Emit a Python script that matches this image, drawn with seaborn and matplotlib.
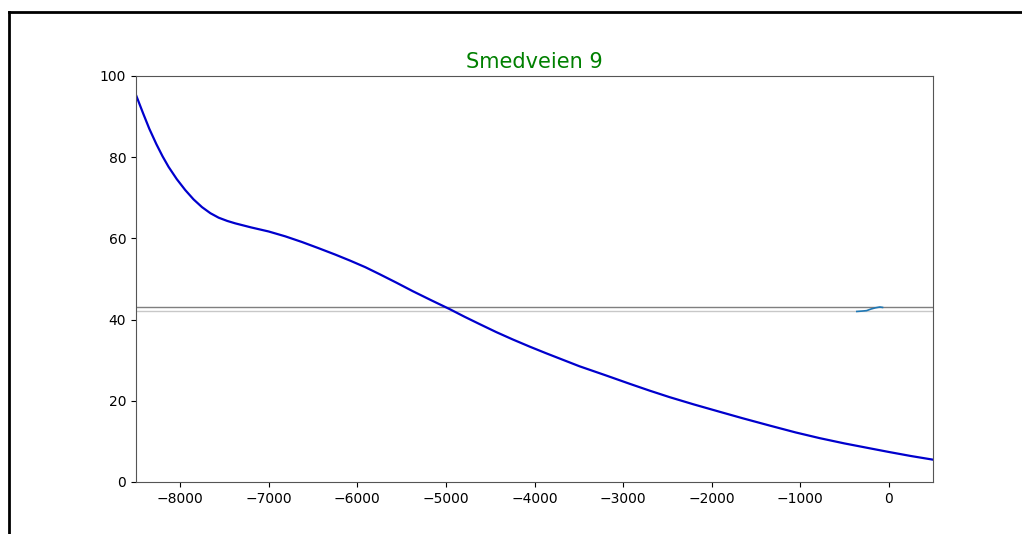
import matplotlib
matplotlib.use("Agg")
import matplotlib.pyplot as plt
from matplotlib.lines import Line2D
import seaborn as sns
import pandas as pd

# Main curve
curve_x = [-8500, -8420, -8350, -8270, -8200, -8132, -8040, -7944, -7850, -7755,
           -7660, -7567, -7470, -7379, -7200, -7002, -6814, -6625, -6440, -6249,
           -6080, -5910, -5751, -5560, -5375, -5170, -4960, -4790, -4621, -4430,
           -4245, -4050, -3868, -3680, -3492, -3200, -2927, -2700, -2475, -2200,
           -1910, -1650, -1345, -1050, -780, -500, -215, 0, 250, 500]
curve_y = [95.3, 90.8, 87.0, 83.2, 80.2, 77.6, 74.6, 71.9, 69.6, 67.7,
           66.2, 65.1, 64.3, 63.7, 62.7, 61.7, 60.5, 59.1, 57.6, 56.0,
           54.5, 52.9, 51.2, 49.1, 47.0, 44.8, 42.6, 40.7, 38.9, 36.9,
           35.1, 33.3, 31.7, 30.1, 28.5, 26.3, 24.2, 22.5, 20.9, 19.1,
           17.3, 15.7, 13.9, 12.2, 10.8, 9.5, 8.3, 7.4, 6.4, 5.5]

# Short recent segment near the reference levels
recent_x = [-360, -300, -250, -200, -150, -100, -70]
recent_y = [42.0, 42.1, 42.2, 42.6, 42.9, 43.1, 43.0]

ref_upper = 43.0
ref_lower = 42.1

title = "Smedveien 9"

curve = pd.DataFrame({"x": curve_x, "y": curve_y})
recent = pd.DataFrame({"x": recent_x, "y": recent_y})

fig = plt.figure(figsize=(10.22, 5.34), dpi=100)
ax = fig.add_axes([0.1331, 0.0974, 0.7798, 0.7603])

ax.axhline(ref_upper, color="#7f7f7f", linewidth=1.0)
ax.axhline(ref_lower, color="#c8c8c8", linewidth=1.0)

sns.lineplot(data=curve, x="x", y="y", ax=ax, color="mediumblue",
             linewidth=1.6, sort=False)
sns.lineplot(data=recent, x="x", y="y", ax=ax, color="#1f77b4",
             linewidth=1.2, sort=False)

ax.set_xlim(-8500, 500)
ax.set_ylim(0, 100)
ax.set_xlabel("")
ax.set_ylabel("")
ax.set_title(title, color="green", fontsize=15)
for s in ax.spines.values():
    s.set_color("#555555")

# frame of the screenshot (left and top edges visible)
fig.add_artist(Line2D([9 / 1022, 9 / 1022], [0, 1 - 12 / 534],
                      transform=fig.transFigure, color="black", linewidth=2))
fig.add_artist(Line2D([9 / 1022, 1], [1 - 12 / 534, 1 - 12 / 534],
                      transform=fig.transFigure, color="black", linewidth=2))

fig.savefig("out.png", dpi=100)
